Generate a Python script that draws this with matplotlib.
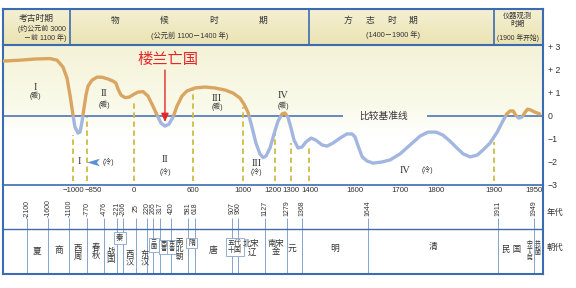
import numpy as np
import matplotlib
matplotlib.use("Agg")
import matplotlib.pyplot as plt
from matplotlib.patches import Rectangle
from matplotlib.path import Path
from matplotlib.colors import LinearSegmentedColormap

FONT = ['Liberation Sans', 'Noto Sans CJK SC', 'DejaVu Sans']
SERIF = ['Liberation Serif', 'DejaVu Serif']
plt.rcParams['font.family'] = FONT

# ---------------- data ----------------
curve_years = [-3000, -2514, -2086, -1657, -1457, -1286, -1171, -1086, -1000, -979,
               -946, -925, -904, -882, -861, -832, -760, -669, -579, -470,
               -380, -326, -289, -235, -163, -90, 0, 41, 92, 142,
               193, 234, 275, 315, 356, 397, 437, 488, 539, 616,
               696, 776, 856, 920, 976, 1006, 1031, 1056, 1081, 1106,
               1125, 1144, 1169, 1194, 1219, 1244, 1262, 1281, 1300, 1317,
               1339, 1361, 1383, 1409, 1430, 1457, 1478, 1504, 1535, 1565,
               1587, 1600, 1607, 1616, 1627, 1640, 1660, 1678, 1700, 1728,
               1756, 1778, 1800, 1812, 1824, 1836, 1847, 1859, 1871, 1881,
               1893, 1904, 1911, 1916, 1920, 1924, 1927, 1931, 1935, 1939,
               1942, 1946, 1951, 1957]
curve_temps = [2.37, 2.41, 2.46, 2.48, 2.41, 2.11, 1.63, 0.89, 0.02, -0.50,
               -0.76, -0.72, -0.28, 0.33, 0.89, 1.28, 1.54, 1.67, 1.67, 1.59,
               1.50, 1.41, 1.15, 0.89, 0.78, 0.80, 0.93, 1.02, 1.04, 0.85,
               0.41, 0.02, -0.33, -0.46, -0.37, -0.07, 0.41, 0.85, 1.07, 1.20,
               1.24, 1.20, 1.11, 0.98, 0.76, 0.50, 0.15, -0.50, -1.20, -1.67,
               -1.83, -1.76, -1.41, -0.80, -0.24, 0.07, 0.11, -0.07, -0.54, -1.07,
               -1.41, -1.37, -1.15, -0.98, -1.07, -1.28, -1.33, -1.20, -0.98, -0.80,
               -0.80, -0.93, -1.33, -1.80, -1.98, -2.07, -2.02, -1.93, -1.67, -1.28,
               -0.89, -0.72, -0.72, -0.85, -1.11, -1.41, -1.67, -1.80, -1.72, -1.50,
               -1.20, -0.72, -0.24, 0.07, 0.20, 0.20, 0.02, -0.11, -0.07, 0.15,
               0.28, 0.24, 0.15, 0.07]

period_years = [-1000, -850, 0, 600, 1000, 1200, 1300, 1400, 1900]
period_line_tops = [-0.85, -0.07, 0.59, 1.20, 0.37, -0.76, -1.20, -1.37, -1.15]

axis_ticks = [-1000, -850, 0, 600, 1000, 1200, 1300, 1400, 1600, 1700, 1800, 1900, 1950]
axis_tick_labels = ['−1000', '−850', '0', '600', '1000', '1200', '1300', '1400',
                    '1600', '1700', '1800', '1900', '1950']

temp_ticks = [3, 2, 1, 0, -1, -2, -3]
temp_tick_labels = ['+ 3', '+ 2', '+ 1', '0', '−1', '−2', '−3']

warm_names = ['I', 'II', 'III', 'IV']
warm_years = [-2086, -543, 792, 1250]
cold_names = ['I', 'II', 'III', 'IV']
cold_years = [-936, 315, 1087, 1714]

event_text = '楼兰亡国'
event_year = 315

header_bounds = [-3000, -1100, 1400, 1900, 1961]

dynasty_years = [-2100, -1600, -1100, -770, -476, -221, -206, 25, 220, 265, 317,
                 420, 581, 618, 907, 960, 1127, 1279, 1368, 1644, 1911, 1949]
dynasty_year_labels = ['-2100', '-1600', '-1100', '-770', '-476', '-221', '-206',
                       '25', '220', '265', '317', '420', '581', '618', '907', '960',
                       '1127', '1279', '1368', '1644', '1911', '1949']
dynasty_names = ['夏', '商', '西\n周', '春\n秋', '战\n国', '秦', '西\n汉', '东\n汉',
                 '三\n国', '西\n晋', '东\n晋', '南\n北\n朝', '隋', '唐', '五代\n十国',
                 '北宋\n辽', '南宋\n金', '元', '明', '清', '民 国']

# ---------------- layout (pixels) ----------------
W, H = 576, 288
TOP_YR = [-3000, -1000, -850, 0, 600, 1000, 1200, 1300, 1400, 1600, 1700, 1800, 1900, 1950, 1961]
TOP_PX = [3, 73, 87, 134, 193, 243, 275, 291, 309, 355, 400, 436, 494, 534, 543]
DYN_YR = [-2671, -2100, -1600, -1100, -770, -476, -221, -206, 25, 220, 265, 317, 420,
          581, 618, 907, 960, 1127, 1279, 1368, 1644, 1911, 1949, 1958.5]
DYN_PX = [3, 27, 48, 69, 87, 104, 117, 123, 136, 147, 153, 160, 171, 188, 195, 232,
          238, 265, 287, 302, 368, 498, 534, 543]

BLUE = '#3b6cb2'
LINE2 = '#86a4cc'
WARM = '#d9a560'
COLD = '#a2b6df'
DASH = '#cfbb45'
TXT = '#333333'


def top_f(x):
    return np.interp(x, TOP_YR, TOP_PX)


def top_i(p):
    return np.interp(p, TOP_PX, TOP_YR)


def dyn_f(x):
    return np.interp(x, DYN_YR, DYN_PX)


def dyn_i(p):
    return np.interp(p, DYN_PX, DYN_YR)


fig = plt.figure(figsize=(W / 100, H / 100), dpi=100)
fig.patch.set_facecolor('white')


def px_axes(x0, y0, x1, y1, **kw):
    return fig.add_axes([x0 / W, 1 - y1 / H, (x1 - x0) / W, (y1 - y0) / H], **kw)


YLO, YHI = -3.0, 3.07

# ---------- dynasty timeline (created first so it sits below the main axes) ----------
dyn = px_axes(3, 184.5, 543, 274)
dyn.patch.set_alpha(0)
dyn.set_xscale('function', functions=(dyn_f, dyn_i))
dyn.set_xlim(DYN_YR[0], DYN_YR[-1])
dyn.set_ylim(274, 184.5)
dyn.set_xticks([])
dyn.set_yticks([])
dyn.tick_params(which='both', bottom=False, left=False, labelbottom=False, labelleft=False)
dyn.spines['top'].set_visible(False)
for s in ('left', 'right', 'bottom'):
    dyn.spines[s].set_color(BLUE)
    dyn.spines[s].set_linewidth(1.5)
dyn.axhline(229, color=BLUE, lw=1.0, zorder=2)
dyn.vlines(dynasty_years, 217.5, 274, colors=LINE2, lw=0.7, zorder=1)
for yr, lab in zip(dynasty_years, dynasty_year_labels):
    dyn.text(yr, 208.5, lab, rotation=90, ha='center', va='center', fontsize=5.0, color=TXT)

name_y = [251, 251, 253, 252, 256, 238, 259, 259, 245, 247, 247, 250, 243, 250, 247,
          248, 248, 248, 248, 246, 250]
name_fs = [6.3, 6.3, 6.0, 6.0, 6.0, 5.3, 6.0, 6.0, 4.4, 4.4, 4.4, 5.4, 5.0, 6.3, 5.0,
           6.0, 6.0, 6.3, 6.3, 6.3, 6.0]
name_dx = [0, 0, 0, 0, 0, 0, 0, 3, 4, 7, 6, 0, 0, 0, 0, 0, 0, -3, 0, 0, -4]
boxed = {5, 8, 9, 10, 12, 14}
bounds = dynasty_years + [DYN_YR[-1]]
for i, nm in enumerate(dynasty_names):
    pm = (dyn_f(bounds[i]) + dyn_f(bounds[i + 1])) / 2 + name_dx[i]
    kw = {}
    if i in boxed:
        kw['bbox'] = dict(boxstyle='square,pad=0.25', fc='white', ec=LINE2, lw=0.6)
    dyn.text(dyn_i(pm), name_y[i], nm, ha='center', va='center', fontsize=name_fs[i],
             color=TXT, linespacing=1.05, zorder=3, **kw)

dyn.text(dyn_i(529.5), 251, '中\n华\n人\n民', ha='center', va='center', fontsize=4.2,
         color=TXT, linespacing=1.0, zorder=3)
dyn.text(dyn_i(537.5), 248, '共\n和\n国', ha='center', va='center', fontsize=4.2,
         color=TXT, linespacing=1.0, zorder=3)

# ---------- main chart ----------
main = px_axes(3, 45, 543, 184.5)
grad_cmap = LinearSegmentedColormap.from_list(
    'bg', [(0.0, '#ffffff'), (0.35, '#ffffff'), (0.55, '#fafaeb'), (1.0, '#f4f2d6')])
g = np.linspace(0, 1, 256).reshape(-1, 1)
main.imshow(g, cmap=grad_cmap, origin='lower', extent=(0, 1, 0, 1),
            transform=main.transAxes, aspect='auto', zorder=0, interpolation='bilinear')
main.set_xscale('function', functions=(top_f, top_i))
main.set_xlim(TOP_YR[0], TOP_YR[-1])
main.set_ylim(YLO, YHI)

gap_lo, gap_hi = top_i(343), top_i(427)
main.hlines(0, TOP_YR[0], gap_lo, color=BLUE, lw=1.1, zorder=2)
main.hlines(0, gap_hi, TOP_YR[-1], color=BLUE, lw=1.1, zorder=2)
main.text(top_i(384), 0, '比较基准线', ha='center', va='center', fontsize=7,
          color=TXT, zorder=4)

main.vlines(period_years, [-2.85] * len(period_years), period_line_tops,
            colors=DASH, lw=1.3, linestyles=(0, (3.0, 2.0)), zorder=2)

zf = (0 - YLO) / (YHI - YLO)
for color, rect in ((WARM, Rectangle((0, zf), 1, 1 - zf)), (COLD, Rectangle((0, 0), 1, zf))):
    ln, = main.plot(curve_years, curve_temps, color=color, lw=2.4,
                    solid_capstyle='round', solid_joinstyle='round', zorder=3)
    rect.set_transform(main.transAxes)
    ln.set_clip_path(rect)

warm_num_y = [1.24, 0.98, 0.76, 0.89]
warm_sub_y = [0.85, 0.46, 0.37, 0.41]
for nm, yr, y1, y2 in zip(warm_names, warm_years, warm_num_y, warm_sub_y):
    main.text(yr, y1, nm, family=SERIF, fontsize=7.5, ha='center', va='center', color=TXT, zorder=4)
    main.text(yr, y2, '(暖)', fontsize=5, ha='center', va='center', color=TXT, zorder=4)

main.text(cold_years[0], -2.02, cold_names[0], family=SERIF, fontsize=7.5,
          ha='center', va='center', color=TXT, zorder=4)
flag = Path([(-1, 0), (1, 0.6), (0.55, 0), (1, -0.6), (-1, 0)],
            [Path.MOVETO, Path.LINETO, Path.LINETO, Path.LINETO, Path.CLOSEPOLY])
main.plot([top_i(92.5)], [-2.02], marker=flag, markersize=9, color='#5d8fd6',
          markeredgewidth=0, zorder=4)
main.text(top_i(108), -2.02, '(冷)', fontsize=5, ha='center', va='center', color=TXT, zorder=4)
cold_num_y = [None, -1.93, -2.07]
cold_sub_y = [None, -2.46, -2.46]
for i in (1, 2):
    main.text(cold_years[i], cold_num_y[i], cold_names[i], family=SERIF, fontsize=7.5,
              ha='center', va='center', color=TXT, zorder=4)
    main.text(cold_years[i], cold_sub_y[i], '(冷)', fontsize=5, ha='center', va='center',
              color=TXT, zorder=4)
main.text(cold_years[3], -2.37, cold_names[3], family=SERIF, fontsize=7.5,
          ha='center', va='center', color=TXT, zorder=4)
main.text(top_i(427), -2.37, '(冷)', fontsize=5, ha='center', va='center', color=TXT, zorder=4)

main.text(top_i(168), 2.41, event_text, fontsize=11, color='#e5262a', ha='center',
          va='center', zorder=5)
main.annotate('', xy=(event_year, -0.28), xytext=(event_year, 1.98),
              arrowprops=dict(arrowstyle='-|>,head_length=0.5,head_width=0.22',
                              color='#e5262a', lw=1.0, shrinkA=0, shrinkB=0,
                              mutation_scale=10), zorder=5)

main.set_xticks([])
main.yaxis.tick_right()
main.set_yticks(temp_ticks)
main.set_yticklabels(temp_tick_labels)
main.tick_params(axis='y', length=0, pad=3.5, labelsize=6.3, labelcolor=TXT)
main.spines['top'].set_visible(False)
for s, lw in (('left', 1.5), ('right', 1.5), ('bottom', 1.2)):
    main.spines[s].set_color(BLUE)
    main.spines[s].set_linewidth(lw)

tick_dx = [0, 4.5, 0, 0, 0, -1.5, 0, 0.5, 0, 0, 0, 0, 0]
for yr, lab, dx in zip(axis_ticks, axis_tick_labels, tick_dx):
    main.annotate(lab, xy=(yr, 0), xycoords=('data', 'axes fraction'), xytext=(dx, -1.8),
                  textcoords='offset points', ha='center', va='top', fontsize=5.6,
                  color=TXT, annotation_clip=False)

# ---------- header ----------
hdr = px_axes(3, 9, 543, 45, sharex=main)
hg = LinearSegmentedColormap.from_list('hg', ['#ebe3b2', '#f4f0d3'])
hdr.imshow(g, cmap=hg, origin='lower', extent=(0, 1, 0, 1), transform=hdr.transAxes,
           aspect='auto', zorder=0, interpolation='bilinear')
hdr.set_xlim(TOP_YR[0], TOP_YR[-1])
hdr.set_ylim(45, 9)
hdr.tick_params(which='both', bottom=False, left=False, labelbottom=False, labelleft=False)
hdr.set_yticks([])
for s in hdr.spines.values():
    s.set_color(BLUE)
    s.set_linewidth(1.5)
hdr.vlines(header_bounds[1:-1], 9, 45, colors=BLUE, lw=1.2, zorder=2)

hdr.text(top_i(36), 18.5, '考古时期', fontsize=6.3, ha='center', va='center', color=TXT)
hdr.text(top_i(66), 29, '(约公元前 3000', fontsize=5.0, ha='right', va='center', color=TXT)
hdr.text(top_i(66), 37.5, '－前 1100 年)', fontsize=5.0, ha='right', va='center', color=TXT)
for i, ch in enumerate('物候时期'):
    hdr.text(top_i(115 + 49.3 * i), 20, ch, fontsize=6.3, ha='center', va='center', color=TXT)
hdr.text(top_i(190), 35.5, '(公元前 1100－1400 年)', fontsize=5.2, ha='center', va='center', color=TXT)
for i, ch in enumerate('方志时期'):
    hdr.text(top_i(348 + 21.7 * i), 20, ch, fontsize=6.3, ha='center', va='center', color=TXT)
hdr.text(top_i(393), 35, '(1400－1900 年)', fontsize=5.2, ha='center', va='center', color=TXT)
hdr.text(top_i(517.5), 16, '仪器观测', fontsize=5.2, ha='center', va='center', color=TXT)
hdr.text(top_i(517.5), 24, '时期', fontsize=5.2, ha='center', va='center', color=TXT)
hdr.text(top_i(518), 38, '(1900 年开始)', fontsize=4.9, ha='center', va='center', color=TXT)

fig.text(555 / W, 1 - 213 / H, '年代', fontsize=6, ha='center', va='center', color=TXT)
fig.text(555 / W, 1 - 248 / H, '朝代', fontsize=6, ha='center', va='center', color=TXT)

fig.savefig('out.png', dpi=100)
